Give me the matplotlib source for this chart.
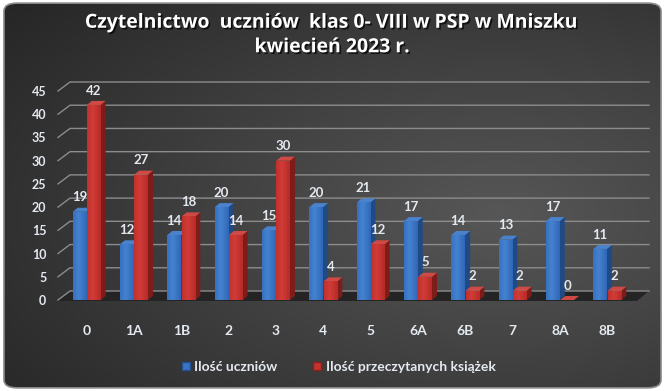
import numpy as np
import matplotlib
matplotlib.use("Agg")
import matplotlib.pyplot as plt
from matplotlib.patches import Polygon, Rectangle, FancyBboxPatch
from matplotlib.lines import Line2D
import matplotlib.patheffects as pe

categories = ["0", "1A", "1B", "2", "3", "4", "5", "6A", "6B", "7", "8A", "8B"]
uczniowie = [19, 12, 14, 20, 15, 20, 21, 17, 14, 13, 17, 11]
ksiazki = [42, 27, 18, 14, 30, 4, 12, 5, 2, 2, 0, 2]
series_names = ["Ilość uczniów", "Ilość przeczytanych książek"]
yticks = list(range(0, 50, 5))
title = "Czytelnictwo  uczniów  klas 0- VIII w PSP w Mniszku\nkwiecień 2023 r."

FONT = ["Lato", "DejaVu Sans"]
plt.rcParams['font.family'] = FONT
TXT = "#e4e9f0"

W, H = 665, 391
fig = plt.figure(figsize=(W / 100, H / 100), dpi=100)
fig.patch.set_facecolor("white")

# background gradient
bg = fig.add_axes([0, 0, 1, 1])
bg.set_axis_off()
yy, xx = np.mgrid[0:1:200j, 0:1:340j]
r = np.sqrt(((xx - 0.75) / 1.0) ** 2 + ((yy - 0.55) / 0.9) ** 2)
v = 0.34 - 0.2 * np.clip(r, 0, 1)
img = np.dstack([v, v, v])
bgbox = FancyBboxPatch((0.006, 0.008), 0.988, 0.984, boxstyle="round,pad=0,rounding_size=0.02",
                       transform=bg.transAxes, facecolor="none", edgecolor="#8a8a8a", lw=1.2, zorder=3)
bg.add_patch(bgbox)
im = bg.imshow(img, extent=[0, 1, 0, 1], aspect="auto", origin="upper", zorder=1)
im.set_clip_path(bgbox)
bg.set_xlim(0, 1)
bg.set_ylim(0, 1)

# plot area
L, R, B, T = 63, 631, 300, 91
ax = fig.add_axes([L / W, 1 - B / H, (R - L) / W, (B - T) / H])
ax.set_facecolor("none")
n = len(categories)
ax.set_xlim(-0.5, n - 0.5)
ax.set_ylim(0, 45)
for s in ax.spines.values():
    s.set_visible(False)

dxp = n / (R - L)        # data units per pixel (x)
dyp = 45 / (B - T)       # data units per pixel (y)
DX, DY = 12 * dxp, 9 * dyp  # back-plane offset
bd, be = 5 * dxp, 4 * dyp   # bar depth

# floor
floor = Polygon([(-0.5 - 5 * dxp, -1 * dyp), (n - 0.5 + 6 * dxp, -1 * dyp),
                 (n - 0.5 + 6 * dxp + DX, DY), (-0.5 - 5 * dxp + DX, DY)],
                closed=True, facecolor="#242424", edgecolor="none", zorder=1, clip_on=False)
ax.add_patch(floor)

# gridlines
for t in yticks:
    x0 = -0.5 - 5 * dxp
    ax.add_line(Line2D([x0, x0 + DX, n - 0.5 + 6 * dxp + DX], [t, t + DY, t + DY],
                       color="#8c8c8c", lw=1.0, zorder=1.5, clip_on=False))

ax.set_yticks(yticks)
ax.set_yticklabels([str(t) for t in yticks], fontsize=9, fontweight="bold", color=TXT)
ax.tick_params(axis="y", length=0, pad=12)
ax.set_xticks(range(n))
ax.set_xticklabels(categories, fontsize=10, fontweight="bold", color=TXT)
ax.tick_params(axis="x", length=0, pad=18)

bw = 0.29
def bar3d(xc, h, front, side, top, light):
    x0, x1 = xc - bw / 2, xc + bw / 2
    z = 3 + xc * 0.01
    ax.add_patch(Polygon([(x1, 0), (x1 + bd, be), (x1 + bd, h + be), (x1, h)], closed=True,
                         facecolor=side, edgecolor="none", zorder=z))
    ax.add_patch(Polygon([(x0, h), (x1, h), (x1 + bd, h + be), (x0 + bd, h + be)], closed=True,
                         facecolor=top, edgecolor="none", zorder=z))
    if h > 0:
        rect = Rectangle((x0, 0), bw, h, facecolor=front, edgecolor="none", zorder=z)
        ax.add_patch(rect)
        g = np.linspace(0, 1, 50)
        prof = 1 - np.abs(g - 0.4) * 1.6
        c0 = np.array(matplotlib.colors.to_rgb(front))
        c1 = np.array(matplotlib.colors.to_rgb(light))
        cols = c0[None, :] + (c1 - c0)[None, :] * np.clip(prof, 0, 1)[:, None] * 0.8
        gi = ax.imshow(cols[None, :, :], extent=[x0, x1, 0, h], aspect="auto", zorder=z + 0.001,
                       interpolation="bilinear")
        gi.set_clip_path(rect)

for i in range(n):
    bar3d(i - 0.15, uczniowie[i], "#2f66b5", "#1f4a85", "#4a82cc", "#4a8ad8")
    bar3d(i + 0.15, ksiazki[i], "#b52a27", "#7e1c1a", "#cf4a45", "#d9413c")
    for xc, val in ((i - 0.15, uczniowie[i]), (i + 0.15, ksiazki[i])):
        ax.annotate(str(val), (xc, val), xytext=(0, 6), textcoords="offset points",
                    ha="center", va="bottom", fontsize=9.5, fontweight="bold", color=TXT, zorder=10)

ax.set_xlim(-0.5, n - 0.5)
ax.set_ylim(0, 45)

# title
fig.text(0.5, 1 - 35 / H, title, ha="center", va="center", fontsize=14, fontweight="bold",
         color="white", linespacing=1.3, family=["Open Sans", "DejaVu Sans"],
         path_effects=[pe.withSimplePatchShadow(offset=(1.2, -1.2), shadow_rgbFace="black", alpha=0.7)])

# legend
handles = [Line2D([], [], marker="s", ls="none", markersize=6, markerfacecolor="#3a74c4",
                  markeredgecolor="#24508f"),
           Line2D([], [], marker="s", ls="none", markersize=6, markerfacecolor="#c8322e",
                  markeredgecolor="#8a1f1d")]
leg = fig.legend(handles, series_names, loc="center", bbox_to_anchor=(0.508, 1 - 367 / H), ncol=2,
                 frameon=False, fontsize=10, handletextpad=0.2, columnspacing=2.5, handlelength=0.8)
for t in leg.get_texts():
    t.set_color(TXT)
    t.set_fontweight("bold")

fig.savefig("out.png", dpi=100, facecolor=fig.get_facecolor())
